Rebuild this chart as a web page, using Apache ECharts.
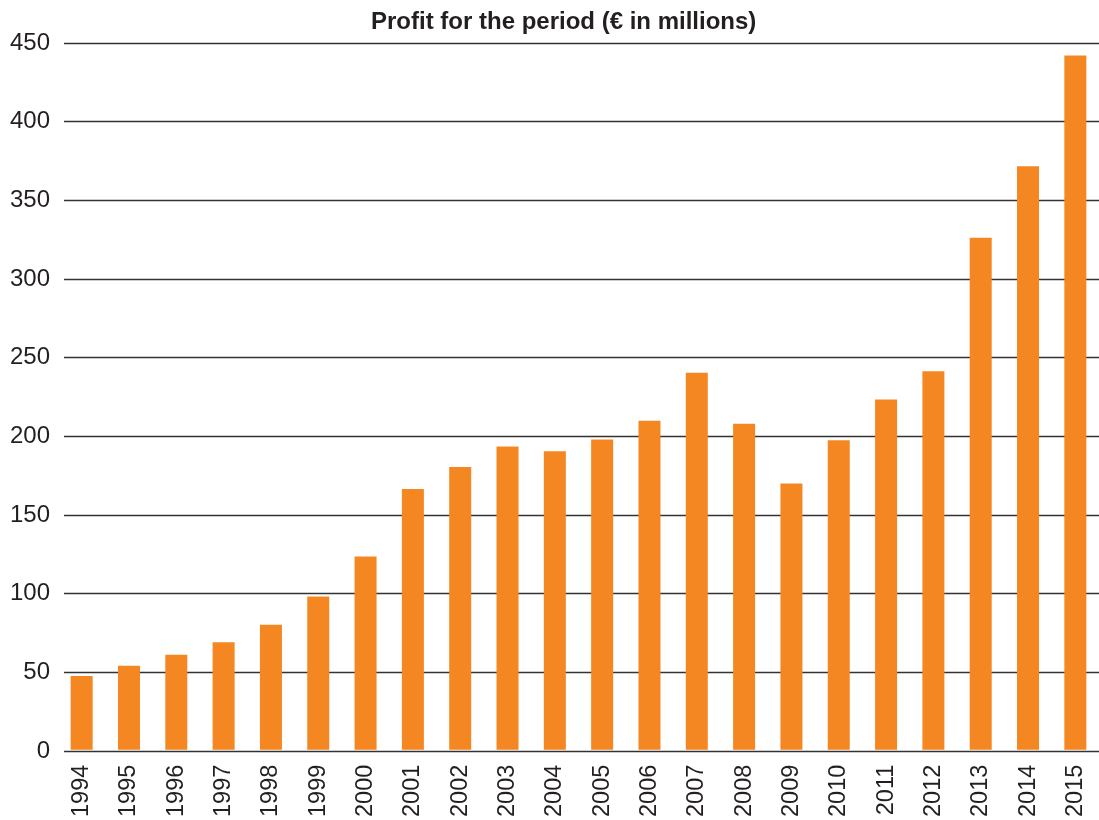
<!DOCTYPE html>
<html>
<head>
<meta charset="utf-8">
<script src="https://cdn.jsdelivr.net/npm/echarts@6/dist/echarts.min.js"></script>
<style>
  html, body { margin: 0; padding: 0; background: #ffffff; }
  #chart { width: 1099px; height: 820px; }
</style>
</head>
<body>
<div id="chart"></div>
<script>
// years on the x axis
const years = ['1994', '1995', '1996', '1997', '1998', '1999', '2000', '2001', '2002', '2003', '2004',
  '2005', '2006', '2007', '2008', '2009', '2010', '2011', '2012', '2013', '2014', '2015'];
// profit for the period, € in millions
const profit = [47, 53.5, 60.5, 68.5, 79.5, 97.5, 123, 166, 180, 193, 190,
  197.5, 209.5, 240, 207.5, 169.5, 197, 223, 241, 326, 371.5, 442];
const yTicks = [0, 50, 100, 150, 200, 250, 300, 350, 400, 450];

const textColor = '#231f20';
const font = 'Liberation Sans, Arial, Helvetica, sans-serif';

const chart = echarts.init(document.getElementById('chart'));

const option = {
  backgroundColor: '#ffffff',
  animation: false,
  title: {
    text: 'Profit for the period (€ in millions)',
    left: 366,
    top: 5,
    textStyle: { fontFamily: font, fontSize: 24, fontWeight: 'bold', color: textColor }
  },
  grid: [
    // grid 0: horizontal rules + y labels
    { left: 64, right: 0, top: 43, bottom: 69 },
    // grid 1: the bars
    { left: 58, width: 1052, top: 43, bottom: 69 }
  ],
  xAxis: [
    {
      gridIndex: 0, type: 'category', data: years,
      axisLine: { show: false }, axisTick: { show: false }, axisLabel: { show: false }
    },
    {
      gridIndex: 1, type: 'category', data: years,
      axisLine: { show: false },
      axisTick: { show: false },
      axisLabel: {
        rotate: 90, margin: 15, interval: 0,
        fontFamily: font, fontSize: 23.5, color: textColor
      }
    }
  ],
  yAxis: [
    {
      gridIndex: 0, type: 'value', min: yTicks[0], max: yTicks[yTicks.length - 1], interval: 50,
      axisLine: { show: false }, axisTick: { show: false },
      axisLabel: { margin: 14, fontFamily: font, fontSize: 24, color: textColor },
      splitLine: { show: true, lineStyle: { color: '#333333', width: 1.3 } }
    },
    {
      gridIndex: 1, type: 'value', min: yTicks[0], max: yTicks[yTicks.length - 1], interval: 50,
      axisLine: { show: false }, axisTick: { show: false },
      axisLabel: { show: false }, splitLine: { show: false }
    }
  ],
  series: [
    {
      type: 'bar',
      xAxisIndex: 1,
      yAxisIndex: 1,
      data: profit,
      barWidth: 22,
      itemStyle: { color: '#f58722' },
      z: 3
    }
  ]
};

chart.setOption(option);
</script>
</body>
</html>
